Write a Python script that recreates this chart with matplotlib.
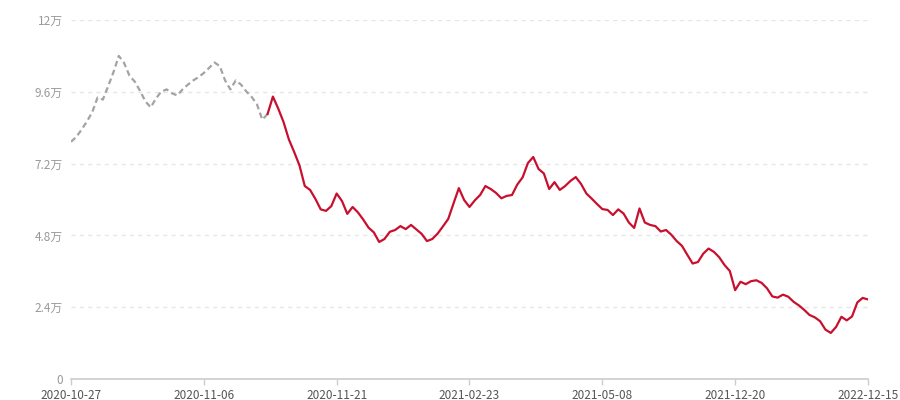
import numpy as np
import matplotlib.pyplot as plt
from matplotlib.ticker import FuncFormatter

plt.rcParams['font.family'] = ['Noto Sans CJK SC', 'DejaVu Sans']

# tick labels shown on the category axis (every 25th point)
date_labels = ["2020-10-27", "2020-11-06", "2020-11-21", "2021-02-23",
               "2021-05-08", "2021-12-20", "2022-12-15"]
label_step = 25

# values in 万
gray_vals = [7.93, 8.09, 8.34, 8.61, 8.92, 9.41, 9.34, 9.79, 10.26, 10.80,
             10.56, 10.14, 9.94, 9.63, 9.28, 9.08, 9.38, 9.61, 9.68, 9.55,
             9.48, 9.68, 9.84, 9.98, 10.09, 10.23, 10.40, 10.58, 10.46, 9.98,
             9.68, 9.98, 9.84, 9.61, 9.43, 9.18, 8.67, 8.86]

red_start = 37
red_vals = [8.86, 9.44, 9.04, 8.59, 8.01, 7.59, 7.14, 6.45, 6.32, 6.02,
            5.67, 5.62, 5.78, 6.20, 5.95, 5.52, 5.75, 5.57, 5.33, 5.06,
            4.90, 4.58, 4.68, 4.92, 4.98, 5.11, 5.01, 5.15, 5.00, 4.85,
            4.61, 4.68, 4.86, 5.10, 5.35, 5.87, 6.38, 5.98, 5.75, 5.97,
            6.15, 6.45, 6.35, 6.22, 6.04, 6.12, 6.15, 6.50, 6.74, 7.22,
            7.42, 7.02, 6.87, 6.35, 6.58, 6.32, 6.45, 6.62, 6.75, 6.52,
            6.20, 6.03, 5.85, 5.68, 5.65, 5.48, 5.67, 5.53, 5.23, 5.05,
            5.70, 5.23, 5.15, 5.11, 4.93, 4.98, 4.82, 4.61, 4.45, 4.15,
            3.86, 3.91, 4.19, 4.36, 4.25, 4.07, 3.81, 3.61, 2.97, 3.25,
            3.17, 3.27, 3.30, 3.21, 3.03, 2.76, 2.72, 2.82, 2.75, 2.58,
            2.46, 2.31, 2.14, 2.06, 1.93, 1.65, 1.54, 1.74, 2.08, 1.96,
            2.09, 2.56, 2.71, 2.66]

y_ticks = [0, 2.4, 4.8, 7.2, 9.6, 12]

x_gray = np.arange(len(gray_vals))
x_red = np.arange(red_start, red_start + len(red_vals))
n_points = red_start + len(red_vals)

fig = plt.figure(figsize=(9, 4), dpi=100)
ax = fig.add_axes([0.0789, 0.0525, 0.8855, 0.8975])

ax.plot(x_gray, gray_vals, color='#a3a3a3', lw=1.6, linestyle=(0, (2.6, 1.6)))
ax.plot(x_red, red_vals, color='#c8102e', lw=1.6)

ax.set_xlim(0, n_points - 1)
ax.set_ylim(0, 12)
ax.set_yticks(y_ticks)


def fmt(v, pos):
    if v == 0:
        return "0"
    return f"{v:g}万"


ax.yaxis.set_major_formatter(FuncFormatter(fmt))
ax.set_xticks(np.arange(0, n_points, label_step))
ax.set_xticklabels(date_labels)

for s in ['left', 'right', 'top']:
    ax.spines[s].set_visible(False)
ax.spines['bottom'].set_color('#cccccc')
ax.spines['bottom'].set_linewidth(1.2)

ax.tick_params(axis='y', length=0, pad=6, labelsize=8.5, labelcolor='#999999')
ax.tick_params(axis='x', length=4, width=1, color='#cccccc', pad=3,
               labelsize=8.5, labelcolor='#555555')

for t in y_ticks[1:]:
    ax.axhline(t, color='#e6e6e6', lw=1, linestyle=(0, (3, 3)), zorder=0)

fig.savefig("out.png", dpi=100)
